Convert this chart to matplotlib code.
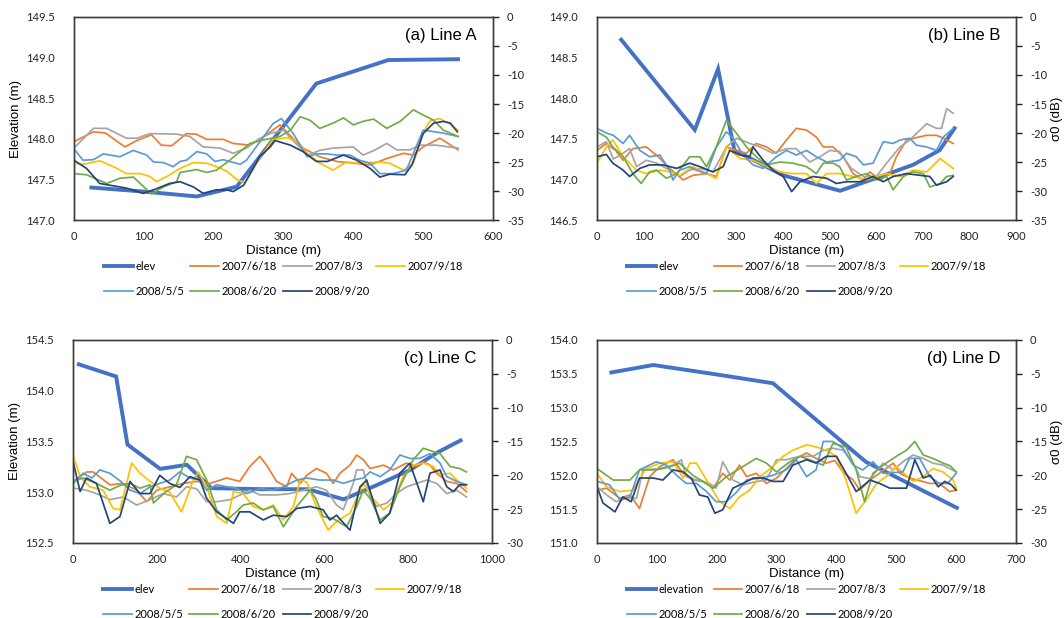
import matplotlib.pyplot as plt
import numpy as np

plt.rcParams['font.family'] = ['Liberation Sans', 'DejaVu Sans']
plt.rcParams['axes.unicode_minus'] = False

dates = ["2007/6/18", "2007/8/3", "2007/9/18", "2008/5/5", "2008/6/20", "2008/9/20"]
colors = ["#ED7D31", "#A5A5A5", "#FFC000", "#5B9BD5", "#70AD47", "#264478"]
elev_color = "#4472C4"

# ---- Line A: (distance m, value) ----
elev_a = [(25, 147.40), (100, 147.35), (176, 147.29), (233, 147.41), (347, 148.68), (450, 148.97), (550, 148.98)]
a_0618 = [(0, -21.5), (28, -19.8), (45, -20.0), (73, -22.4), (90, -21.3), (111, -20.3), (125, -22.1), (140, -22.2),
          (161, -20.1), (175, -20.2), (190, -21.1), (214, -21.1), (228, -21.8), (252, -22.1), (270, -20.8), (295, -18.6),
          (310, -20.5), (328, -22.6), (352, -24.1), (376, -24.9), (400, -25.2), (424, -25.5), (448, -24.4), (472, -23.5),
          (486, -23.8), (500, -22.4), (524, -20.9), (550, -22.9)]
a_0803 = [(0, -22.6), (28, -19.2), (47, -19.2), (75, -20.9), (90, -20.9), (109, -20.1), (147, -20.2), (166, -20.6),
          (185, -22.4), (209, -22.6), (228, -23.5), (247, -22.6), (265, -21.0), (281, -20.1), (300, -19.5), (315, -21.5),
          (335, -23.8), (352, -23.0), (371, -22.6), (400, -22.4), (414, -23.8), (430, -23.0), (448, -21.8), (462, -22.9),
          (481, -22.9), (496, -22.1), (519, -22.1), (550, -22.6)]
a_0918 = [(0, -25.2), (13, -25.4), (37, -24.8), (60, -26.0), (75, -27.0), (95, -27.0), (109, -27.5), (118, -28.4),
          (133, -27.5), (152, -26.1), (171, -25.1), (190, -25.2), (204, -25.8), (219, -26.6), (233, -28.0), (245, -28.6),
          (265, -24.5), (285, -21.1), (305, -20.8), (320, -21.5), (334, -23.5), (352, -25.2), (371, -26.4), (390, -25.0),
          (409, -25.2), (438, -25.0), (452, -25.2), (472, -26.4), (486, -25.2), (500, -20.1), (509, -18.0), (523, -17.5),
          (538, -18.4), (550, -19.5)]
a_0505 = [(0, -22.7), (13, -24.7), (28, -24.6), (42, -23.6), (66, -24.1), (85, -23.0), (104, -23.8), (114, -25.0),
          (128, -25.1), (142, -25.8), (152, -24.9), (161, -24.7), (176, -23.2), (190, -23.6), (202, -24.9), (214, -24.6),
          (238, -25.4), (247, -24.7), (261, -22.4), (285, -18.4), (297, -17.5), (314, -20.1), (334, -24.1), (347, -23.6),
          (362, -23.6), (376, -23.8), (395, -23.8), (409, -24.7), (424, -25.2), (438, -27.0), (457, -27.0), (476, -26.4),
          (500, -19.5), (528, -20.0), (550, -20.6)]
a_0620 = [(0, -27.0), (18, -27.2), (47, -28.7), (66, -27.8), (85, -27.6), (111, -30.5), (128, -29.3), (147, -28.4),
          (152, -26.8), (176, -26.3), (190, -26.8), (204, -26.4), (221, -24.9), (238, -23.2), (252, -21.8), (271, -21.2),
          (295, -20.6), (310, -19.5), (324, -17.2), (338, -17.8), (352, -19.2), (371, -18.3), (386, -17.4), (400, -18.6),
          (414, -18.0), (429, -17.6), (448, -19.2), (467, -18.0), (486, -16.0), (500, -16.9), (515, -17.8), (529, -19.5),
          (550, -20.6)]
a_0920 = [(0, -24.7), (18, -26.1), (37, -28.7), (56, -29.1), (75, -29.5), (99, -30.4), (114, -29.8), (137, -28.7),
          (152, -28.4), (171, -29.3), (185, -30.4), (204, -29.8), (219, -29.8), (228, -30.1), (243, -29.0), (266, -24.1),
          (281, -22.4), (288, -21.3), (310, -22.1), (328, -23.2), (347, -24.9), (363, -24.9), (386, -23.8), (405, -24.7),
          (424, -26.1), (438, -27.6), (452, -27.1), (474, -27.2), (484, -25.5), (500, -20.1), (515, -18.3), (529, -18.0),
          (539, -18.3), (549, -19.8)]

# ---- Line B ----
elev_b = [(52, 148.72), (210, 147.61), (260, 148.36), (295, 147.36), (400, 147.05), (522, 146.86), (621, 147.06),
          (679, 147.18), (736, 147.36), (768, 147.63)]
b_0618 = [(0, -23.0), (20, -21.8), (40, -23.0), (56, -24.7), (77, -22.7), (106, -22.4), (130, -24.0), (156, -26.1),
          (185, -28.1), (206, -27.3), (235, -27.0), (256, -27.5), (278, -22.4), (300, -23.0), (321, -23.5), (342, -21.8),
          (364, -22.4), (385, -23.5), (407, -21.2), (428, -19.2), (450, -19.5), (471, -20.7), (486, -22.4), (507, -22.4),
          (529, -24.1), (550, -27.0), (572, -28.1), (586, -26.7), (608, -28.1), (629, -27.0), (643, -24.1), (665, -21.2),
          (686, -20.8), (708, -20.4), (729, -20.4), (744, -20.9), (765, -21.8)]
b_0803 = [(0, -22.4), (20, -21.5), (35, -24.5), (56, -23.5), (70, -22.7), (85, -25.8), (106, -24.7), (128, -25.2),
          (156, -26.4), (178, -27.5), (199, -26.4), (221, -26.1), (249, -26.7), (278, -22.4), (300, -20.9), (328, -21.8),
          (350, -22.4), (378, -23.5), (407, -22.7), (428, -22.7), (457, -25.0), (479, -24.1), (500, -23.0), (521, -23.2),
          (545, -26.0), (572, -27.5), (600, -27.5), (622, -25.2), (651, -22.4), (672, -21.2), (686, -20.1), (708, -18.4),
          (729, -19.2), (740, -19.2), (751, -15.8), (765, -16.6)]
b_0918 = [(0, -25.2), (20, -22.4), (34, -21.2), (56, -24.1), (85, -26.4), (106, -27.0), (135, -26.4), (156, -26.7),
          (178, -27.3), (206, -25.8), (235, -27.0), (256, -27.8), (278, -22.4), (307, -24.4), (335, -24.7), (364, -25.8),
          (393, -26.7), (421, -27.0), (450, -27.0), (471, -28.7), (493, -27.0), (521, -27.0), (550, -27.5), (579, -28.1),
          (600, -27.5), (622, -27.0), (651, -27.5), (679, -26.4), (708, -26.7), (737, -24.4), (765, -26.1)]
b_0505 = [(0, -19.2), (20, -20.0), (35, -20.4), (56, -21.8), (70, -20.4), (92, -23.0), (113, -24.1), (135, -23.8),
          (156, -26.4), (163, -28.1), (178, -26.4), (199, -25.8), (213, -26.4), (235, -27.0), (256, -22.5), (278, -19.8),
          (292, -20.9), (314, -23.8), (335, -25.5), (357, -26.1), (385, -24.1), (407, -23.0), (428, -23.8), (450, -23.0),
          (471, -24.1), (493, -25.0), (521, -24.7), (536, -23.5), (557, -24.1), (572, -25.5), (593, -25.2), (615, -21.5),
          (636, -21.8), (651, -21.2), (672, -20.9), (686, -22.1), (708, -22.4), (729, -23.0), (744, -20.7), (765, -19.2)]
b_0620 = [(0, -19.8), (20, -20.7), (34, -22.4), (56, -24.1), (77, -27.0), (95, -28.7), (113, -26.7), (128, -26.4),
          (149, -27.8), (171, -27.0), (199, -24.1), (221, -24.1), (235, -25.8), (256, -22.4), (278, -17.8), (300, -20.1),
          (321, -22.4), (342, -24.1), (364, -25.5), (393, -25.0), (421, -25.2), (450, -25.8), (471, -27.0), (486, -25.2),
          (507, -25.2), (521, -25.8), (536, -28.1), (557, -27.5), (579, -27.0), (600, -28.1), (622, -27.5), (636, -29.8),
          (658, -27.5), (679, -26.7), (701, -27.0), (715, -29.3), (737, -28.7), (751, -27.5), (765, -27.3)]
b_0920 = [(0, -24.1), (20, -23.7), (34, -25.2), (56, -26.4), (70, -27.5), (92, -26.1), (113, -25.5), (142, -25.5),
          (171, -26.1), (199, -25.2), (221, -25.8), (249, -26.7), (271, -25.8), (285, -23.0), (307, -23.8), (328, -24.1),
          (335, -22.4), (357, -24.7), (378, -26.4), (400, -27.5), (418, -30.1), (436, -28.4), (464, -27.5), (493, -27.8),
          (514, -28.7), (536, -28.4), (565, -28.4), (593, -27.5), (615, -28.4), (636, -27.5), (665, -27.0), (694, -27.3),
          (715, -27.5), (729, -29.0), (751, -28.4), (765, -27.5)]

# ---- Line C ----
elev_c = [(14, 154.26), (103, 154.14), (130, 153.47), (208, 153.23), (272, 153.27), (330, 153.04), (450, 153.03),
          (560, 153.03), (646, 152.93), (725, 153.07), (805, 153.22), (869, 153.39), (925, 153.51)]
c_0618 = [(0, -20.9), (33, -19.5), (48, -19.5), (88, -21.4), (120, -21.2), (152, -22.2), (176, -23.9), (200, -22.2),
          (231, -21.7), (263, -21.2), (295, -20.9), (327, -21.2), (367, -20.4), (398, -20.9), (422, -18.7), (446, -17.2),
          (462, -18.5), (486, -20.9), (510, -21.7), (522, -19.7), (542, -21.2), (558, -20.0), (581, -19.0), (605, -19.7),
          (621, -21.2), (637, -19.7), (661, -18.5), (677, -17.0), (693, -17.7), (709, -19.0), (741, -18.5), (764, -19.2),
          (796, -18.2), (820, -18.7), (836, -18.0), (852, -18.5), (868, -19.7), (892, -20.9), (916, -21.2), (939, -22.4)]
c_0803 = [(2, -21.9), (32, -22.2), (64, -22.9), (88, -23.6), (120, -23.2), (152, -24.4), (184, -23.6), (215, -22.7),
          (247, -23.2), (271, -21.7), (295, -22.0), (319, -23.9), (343, -23.9), (375, -23.6), (406, -22.7), (422, -22.2),
          (446, -22.9), (486, -22.9), (518, -22.7), (550, -22.2), (581, -21.7), (605, -22.2), (629, -24.4), (645, -25.1),
          (669, -21.2), (677, -19.2), (693, -19.2), (709, -23.2), (725, -24.6), (749, -24.1), (772, -22.7), (796, -21.7),
          (820, -21.2), (844, -20.7), (868, -21.2), (892, -22.7), (916, -22.2), (939, -23.2)]
c_0918 = [(1, -17.2), (17, -20.2), (40, -21.7), (72, -22.2), (96, -24.9), (112, -25.1), (140, -18.2), (160, -19.7),
          (184, -20.9), (207, -21.9), (231, -22.5), (259, -25.4), (287, -20.7), (299, -19.5), (319, -21.7), (343, -26.1),
          (367, -27.1), (383, -22.4), (406, -22.7), (430, -24.6), (454, -25.1), (478, -24.4), (502, -26.6), (526, -24.6),
          (542, -20.7), (558, -21.0), (581, -24.6), (609, -28.1), (629, -26.8), (661, -25.6), (693, -21.2), (717, -23.5),
          (741, -25.1), (764, -23.9), (788, -20.2), (812, -18.5), (836, -18.2), (860, -18.7), (876, -19.9), (900, -19.7),
          (916, -20.7), (939, -21.9)]
c_0505 = [(1, -21.2), (24, -19.7), (45, -20.4), (64, -19.2), (88, -19.7), (112, -20.8), (136, -22.2), (160, -22.7),
          (184, -21.7), (207, -21.2), (231, -20.7), (255, -19.5), (279, -20.4), (303, -20.7), (319, -22.2), (343, -21.4),
          (367, -21.7), (390, -21.9), (414, -22.7), (446, -22.0), (478, -22.2), (502, -21.7), (534, -20.7), (558, -20.4),
          (589, -20.7), (621, -20.7), (645, -21.2), (669, -20.7), (693, -20.4), (709, -19.5), (733, -20.2), (756, -19.2),
          (780, -17.0), (804, -17.5), (828, -17.5), (852, -16.8), (876, -18.2), (892, -20.2), (916, -20.9), (939, -21.4)]
c_0620 = [(1, -20.9), (24, -20.4), (56, -21.2), (88, -22.2), (112, -21.5), (136, -21.2), (160, -21.9), (184, -21.4),
          (192, -24.1), (220, -22.5), (247, -21.4), (271, -17.2), (295, -17.7), (319, -20.7), (343, -25.1), (367, -26.6),
          (390, -25.4), (406, -24.4), (430, -24.1), (454, -25.1), (478, -24.6), (502, -27.6), (534, -24.6), (566, -22.2),
          (580, -23.5), (597, -26.1), (621, -26.4), (653, -27.6), (677, -24.6), (693, -22.2), (710, -23.5), (733, -26.6),
          (756, -25.6), (780, -21.7), (812, -17.7), (836, -16.0), (860, -16.5), (876, -16.8), (900, -18.7), (923, -19.0),
          (939, -19.5)]
c_0920 = [(1, -18.2), (17, -22.4), (32, -20.4), (56, -21.2), (88, -27.1), (112, -26.1), (136, -20.9), (160, -22.7),
          (184, -22.7), (207, -20.0), (231, -21.2), (255, -21.8), (279, -20.2), (303, -20.7), (319, -23.4), (343, -25.4),
          (367, -26.4), (383, -27.1), (398, -25.4), (422, -25.4), (454, -26.6), (478, -25.9), (510, -26.1), (534, -24.9),
          (566, -24.6), (597, -25.1), (613, -26.6), (629, -25.9), (661, -28.1), (685, -21.7), (701, -20.7), (733, -27.1),
          (756, -25.6), (780, -19.7), (804, -18.2), (836, -23.9), (852, -19.7), (876, -19.2), (892, -21.7), (908, -22.4),
          (923, -21.4), (939, -21.4)]

# ---- Line D ----
elev_d = [(24, 153.52), (94, 153.63), (200, 153.49), (294, 153.36), (449, 152.20), (601, 151.52)]
d_0618 = [(0, -22.2), (16, -21.9), (38, -23.4), (55, -22.9), (71, -24.9), (88, -20.2), (105, -18.7), (127, -17.7),
          (144, -19.7), (160, -20.7), (177, -20.9), (194, -21.9), (210, -19.7), (222, -20.7), (238, -18.5), (250, -20.2),
          (266, -19.7), (283, -21.2), (300, -20.4), (316, -19.0), (333, -17.5), (350, -16.7), (366, -17.5), (383, -18.2),
          (397, -17.8), (411, -19.5), (428, -20.7), (439, -22.2), (456, -20.7), (472, -19.7), (495, -18.2), (506, -19.7),
          (522, -20.4), (539, -20.8), (556, -21.2), (572, -21.2), (589, -22.4), (600, -22.2)]
d_0803 = [(0, -21.7), (16, -22.9), (32, -23.9), (49, -23.4), (66, -23.4), (77, -19.2), (105, -19.0), (127, -18.5),
          (141, -17.7), (149, -20.2), (170, -20.8), (188, -21.2), (199, -21.9), (210, -18.0), (227, -20.7), (244, -21.4),
          (262, -21.0), (283, -20.7), (300, -17.7), (316, -17.7), (339, -17.2), (361, -17.2), (378, -16.3), (394, -16.0),
          (411, -16.3), (428, -18.2), (439, -20.2), (456, -20.5), (478, -18.2), (495, -19.2), (511, -18.0), (528, -17.0),
          (545, -17.5), (561, -18.2), (578, -18.5), (600, -19.5)]
d_0918 = [(0, -19.7), (16, -21.7), (38, -22.4), (60, -22.2), (82, -19.0), (105, -18.2), (127, -18.0), (144, -20.4),
          (155, -18.2), (166, -18.2), (183, -20.7), (205, -23.9), (222, -24.9), (238, -23.2), (255, -22.2), (272, -20.2),
          (290, -19.0), (311, -17.2), (327, -16.3), (350, -15.5), (366, -15.8), (383, -16.3), (400, -17.2), (416, -20.7),
          (433, -25.6), (450, -23.6), (467, -21.2), (483, -20.2), (500, -18.7), (514, -19.8), (528, -20.9), (545, -20.2),
          (561, -19.0), (578, -19.5), (595, -20.7), (600, -21.9)]
d_0505 = [(0, -20.9), (21, -21.4), (38, -23.6), (55, -23.2), (71, -19.2), (99, -18.0), (116, -18.5), (133, -20.0),
          (149, -21.2), (166, -21.2), (183, -22.4), (199, -23.9), (216, -23.9), (233, -22.5), (250, -20.7), (272, -20.4),
          (294, -20.0), (316, -19.2), (333, -17.7), (350, -20.2), (366, -19.2), (378, -15.0), (394, -15.0), (411, -16.0),
          (428, -18.5), (444, -19.2), (461, -18.0), (478, -19.7), (495, -19.6), (511, -19.5), (522, -17.5), (539, -17.5),
          (556, -20.2), (572, -21.2), (586, -21.2), (600, -19.7)]
d_0620 = [(0, -19.0), (27, -20.7), (55, -20.7), (71, -19.2), (99, -19.2), (120, -18.8), (138, -18.2), (160, -20.0),
          (177, -20.9), (194, -21.9), (216, -20.2), (244, -18.7), (266, -17.5), (283, -18.2), (300, -19.5), (322, -18.0),
          (339, -17.2), (358, -17.8), (378, -18.5), (394, -15.3), (416, -15.8), (433, -19.2), (447, -23.9), (461, -19.7),
          (483, -18.2), (500, -17.2), (517, -16.3), (531, -15.0), (545, -17.0), (561, -17.5), (578, -18.2), (590, -18.6),
          (600, -19.5)]
d_0920 = [(0, -21.7), (10, -24.1), (30, -25.4), (43, -23.2), (57, -23.9), (71, -20.4), (94, -20.4), (110, -20.7),
          (127, -19.2), (144, -19.5), (158, -20.5), (171, -22.9), (185, -23.2), (197, -25.6), (210, -25.1), (227, -21.9),
          (244, -21.2), (261, -20.4), (277, -20.4), (294, -20.9), (311, -20.9), (327, -18.5), (350, -17.7), (366, -18.2),
          (383, -17.2), (400, -17.2), (416, -19.7), (433, -22.4), (456, -20.7), (472, -21.2), (489, -21.9), (517, -21.9),
          (531, -17.7), (545, -20.4), (557, -20.0), (570, -21.7), (581, -20.9), (592, -21.4), (600, -22.2)]


def xy(pairs):
    arr = np.array(pairs, dtype=float)
    return arr[:, 0], arr[:, 1]


def draw_panel(rect, elev, elev_label, series, title, xmax, xstep, ylim_elev, ylim_db,
               left_label=False, right_label=False):
    ax = fig.add_axes(rect)
    ax2 = ax.twinx()

    x, y = xy(elev)
    h_elev, = ax.plot(x, y, color=elev_color, lw=2.8, solid_joinstyle="miter", label=elev_label)
    handles = [h_elev]
    for s, c, d in zip(series, colors, dates):
        x, y = xy(s)
        h, = ax2.plot(x, y, color=c, lw=1.25, label=d)
        handles.append(h)

    ax.set_xlim(0, xmax)
    ax.set_xticks(np.arange(0, xmax + 1, xstep))
    ax.set_ylim(*ylim_elev)
    ax.set_yticks(np.arange(ylim_elev[0], ylim_elev[1] + 0.01, 0.5))
    ax.yaxis.set_major_formatter(plt.FormatStrFormatter("%.1f"))
    ax2.set_ylim(*ylim_db)
    ax2.set_yticks(np.arange(ylim_db[0], ylim_db[1] + 1, 5))

    for a in (ax, ax2):
        for sp in a.spines.values():
            sp.set_color("#3c3c3c")
            sp.set_linewidth(1.0)
    ax.tick_params(axis="x", length=0, pad=8, labelsize=8, colors="#222222")
    ax.tick_params(axis="y", length=0, pad=14, labelsize=8, colors="#222222")
    ax2.tick_params(axis="y", length=4, width=1, pad=6, labelsize=8, colors="#222222")
    for lab in ax.get_xticklabels() + ax.get_yticklabels() + ax2.get_yticklabels():
        lab.set_family("Lato")

    ax.set_xlabel("Distance (m)", fontsize=9.5, labelpad=2)
    if left_label:
        ax.set_ylabel("Elevation (m)", fontsize=9.5, labelpad=3)
    if right_label:
        ax2.set_ylabel("σ0 (dB)", fontsize=9.5, labelpad=3)

    ax2.text(0.962, 0.91, title, transform=ax2.transAxes, ha="right", va="center", fontsize=12)

    order = [0, 4, 1, 5, 2, 6, 3]
    hs = [handles[i] for i in order]
    ax2.legend(hs, [h.get_label() for h in hs], loc="upper center", bbox_to_anchor=(0.5, -0.175),
               ncol=4, frameon=False, prop={"family": "Lato", "size": 8}, handlelength=2.6,
               handletextpad=0.2, columnspacing=0.6, labelspacing=1.25, borderpad=0)
    return ax, ax2


fig = plt.figure(figsize=(10.64, 6.18), dpi=100)

w, h = 0.3938, 0.3285
draw_panel([0.0695, 0.644, w, h], elev_a, "elev", [a_0618, a_0803, a_0918, a_0505, a_0620, a_0920],
           "(a) Line A", 600, 100, (147.0, 149.5), (-35, 0), left_label=True)
draw_panel([0.5611, 0.644, w, h], elev_b, "elev", [b_0618, b_0803, b_0918, b_0505, b_0620, b_0920],
           "(b) Line B", 900, 100, (146.5, 149.0), (-35, 0), right_label=True)
draw_panel([0.0686, 0.1214, w, h], elev_c, "elev", [c_0618, c_0803, c_0918, c_0505, c_0620, c_0920],
           "(c) Line C", 1000, 200, (152.5, 154.5), (-30, 0), left_label=True)
draw_panel([0.5611, 0.1214, w, h], elev_d, "elevation", [d_0618, d_0803, d_0918, d_0505, d_0620, d_0920],
           "(d) Line D", 700, 100, (151.0, 154.0), (-30, 0), right_label=True)

fig.savefig("out.png", dpi=100)
